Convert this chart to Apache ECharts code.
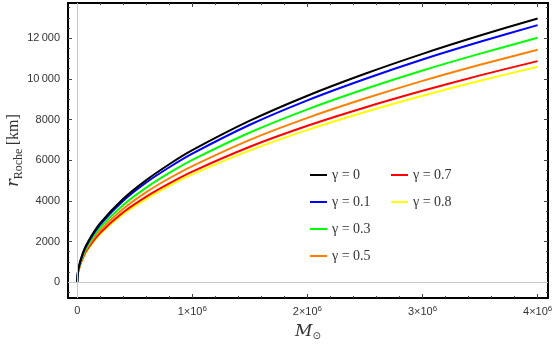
<!DOCTYPE html>
<html>
<head>
<meta charset="utf-8">
<script src="https://cdn.jsdelivr.net/npm/echarts@6/dist/echarts.min.js"></script>
<style>
  html, body { margin: 0; padding: 0; background: #fff; }
  #chart { width: 556px; height: 349px; }
</style>
</head>
<body>
<div id="chart"></div>
<script>
'use strict'
// solar masses
var masses = [0, 10000, 50000, 100000, 200000, 400000, 600000, 800000, 1000000,
    1500000, 2000000, 2500000, 3000000, 3500000, 4000000];

// r_Roche in km
var gamma0  = [0, 650, 1450, 2050, 2900, 4100, 5020, 5800, 6490, 7940, 9170, 10250, 11230, 12130, 12970];
var gamma01 = [0, 630, 1410, 2000, 2830, 4000, 4900, 5650, 6320, 7740, 8940, 9990, 10950, 11820, 12640];
var gamma03 = [0, 600, 1340, 1900, 2690, 3800, 4650, 5370, 6010, 7360, 8500, 9500, 10410, 11240, 12020];
var gamma05 = [0, 570, 1280, 1810, 2550, 3610, 4430, 5110, 5710, 7000, 8080, 9030, 9900, 10690, 11430];
var gamma07 = [0, 540, 1220, 1720, 2430, 3440, 4210, 4860, 5440, 6660, 7690, 8590, 9410, 10170, 10870];
var gamma08 = [0, 530, 1180, 1670, 2370, 3350, 4100, 4740, 5300, 6480, 7490, 8370, 9170, 9910, 10590];

var xTicks = [0, 1000000, 2000000, 3000000, 4000000];
var xMinor = [];
for (var i = 0; i <= 20; i++) xMinor.push(i * 200000);
var yTicks = [0, 2000, 4000, 6000, 8000, 10000, 12000];
var yMinor = [];
for (var j = -1; j <= 27; j++) yMinor.push(j * 500);

var X_MIN = -80000, X_MAX = 4090000;
var Y_MIN = -780, Y_MAX = 13730;

var chart = echarts.init(document.getElementById('chart'));

function pairs(vals) {
    return vals.map(function (v, k) { return [masses[k], v]; });
}

function mkLine(name, vals, color) {
    return {
        name: name,
        type: 'line',
        smooth: 0.3,
        showSymbol: false,
        data: pairs(vals),
        lineStyle: { color: color, width: 2 },
        itemStyle: { color: color },
        z: 3
    };
}

function tickAxis(dim, pos, ticks, len, showLine) {
    var ax = {
        type: 'value',
        position: pos,
        min: dim === 'x' ? X_MIN : Y_MIN,
        max: dim === 'x' ? X_MAX : Y_MAX,
        axisLine: { show: showLine, onZero: false, lineStyle: { color: '#000', width: 2 } },
        axisTick: { show: true, inside: true, length: len, customValues: ticks,
            lineStyle: { color: '#444', width: 1 } },
        axisLabel: { show: false },
        splitLine: { show: false }
    };
    return ax;
}

function fmtNum(v) {
    if (v >= 10000) {
        var s = String(v);
        return s.slice(0, s.length - 3) + '\u2009' + s.slice(s.length - 3);
    }
    return String(v);
}

// bottom / left axes carry the labels
var xMain = tickAxis('x', 'bottom', xTicks, 4, true);
xMain.axisLabel = {
    show: true, customValues: xTicks, margin: 7,
    color: '#333', fontFamily: 'Liberation Sans', fontSize: 11,
    formatter: function (v) {
        if (v === 0) return '0';
        return '{b|' + (v / 1000000) + '\u00d710}{s|6}';
    },
    rich: {
        b: { fontFamily: 'Liberation Sans', fontSize: 11, color: '#333' },
        s: { fontFamily: 'Liberation Sans', fontSize: 8, color: '#333', padding: [0, 0, 6, 0] }
    }
};
xMain.name = '{m|M}{o|\u2299}';
xMain.nameLocation = 'middle';
xMain.nameGap = 25;
xMain.nameTextStyle = {
    rich: {
        m: { fontFamily: 'DejaVu Serif', fontStyle: 'italic', fontSize: 17, color: '#333' },
        o: { fontFamily: 'DejaVu Sans', fontSize: 10, color: '#333', padding: [0, 0, -10, 0] }
    }
};

var yMain = tickAxis('y', 'left', yTicks, 4, true);
yMain.axisLabel = {
    show: true, customValues: yTicks, margin: 8,
    color: '#333', fontFamily: 'Liberation Sans', fontSize: 11,
    formatter: fmtNum
};
yMain.name = '{r|r}{s|Roche} {k|[km]}';
yMain.nameLocation = 'middle';
yMain.nameRotate = 90;
yMain.nameGap = 46;
yMain.nameMoveOverlap = false;
yMain.nameTextStyle = {
    rich: {
        r: { fontFamily: 'DejaVu Serif', fontStyle: 'italic', fontSize: 16, color: '#333' },
        s: { fontFamily: 'Liberation Serif', fontSize: 12, color: '#333', padding: [0, 0, -9, 0] },
        k: { fontFamily: 'Liberation Serif', fontSize: 16, color: '#333' }
    }
};

var option = {
    animation: false,
    backgroundColor: '#fff',
    grid: { left: 68, right: 8, top: 3, bottom: 51, containLabel: false, outerBoundsMode: 'none' },
    legend: [
        {
            orient: 'vertical', left: 305, top: 162, itemGap: 11,
            itemWidth: 17, itemHeight: 2, icon: 'rect',
            textStyle: { fontFamily: 'Liberation Serif', fontSize: 14, color: '#333', lineHeight: 16 },
            data: ['\u03b3 = 0', '\u03b3 = 0.1', '\u03b3 = 0.3', '\u03b3 = 0.5']
        },
        {
            orient: 'vertical', left: 386, top: 162, itemGap: 11,
            itemWidth: 17, itemHeight: 2, icon: 'rect',
            textStyle: { fontFamily: 'Liberation Serif', fontSize: 14, color: '#333', lineHeight: 16 },
            data: ['\u03b3 = 0.7', '\u03b3 = 0.8']
        }
    ],
    xAxis: [
        xMain,
        tickAxis('x', 'bottom', xMinor, 2, false),
        tickAxis('x', 'top', xTicks, 4, true),
        tickAxis('x', 'top', xMinor, 2, false)
    ],
    yAxis: [
        yMain,
        tickAxis('y', 'left', yMinor, 2, false),
        tickAxis('y', 'right', yTicks, 4, true),
        tickAxis('y', 'right', yMinor, 2, false)
    ],
    series: [
        {
            type: 'line', data: [], silent: true,
            markLine: {
                silent: true, symbol: 'none', label: { show: false },
                lineStyle: { color: '#c8c8c8', width: 1, type: 'solid' },
                data: [{ xAxis: 0 }, { yAxis: 0 }]
            },
            z: 1
        },
        mkLine('\u03b3 = 0.8', gamma08, '#ffff00'),
        mkLine('\u03b3 = 0.7', gamma07, '#ff0000'),
        mkLine('\u03b3 = 0.5', gamma05, '#ff8000'),
        mkLine('\u03b3 = 0.3', gamma03, '#00ff00'),
        mkLine('\u03b3 = 0.1', gamma01, '#0000ff'),
        mkLine('\u03b3 = 0', gamma0, '#000000')
    ]
};

chart.setOption(option);
</script>
</body>
</html>
